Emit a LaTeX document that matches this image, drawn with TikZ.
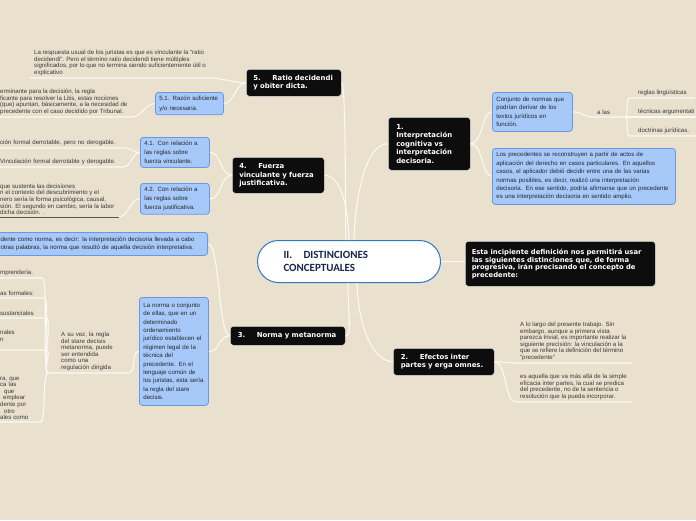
\documentclass[tikz,border=0pt]{standalone}
\usepackage{fontspec}
\setmainfont{Liberation Sans}
\newfontfamily\boldsans{DejaVu Sans}
\newfontfamily\titlefont{Carlito}
\definecolor{paper}{RGB}{233,224,206}
\definecolor{boxblue}{RGB}{166,201,250}
\definecolor{boxedge}{RGB}{104,152,228}
\definecolor{hubedge}{RGB}{44,122,196}
\definecolor{hubtext}{RGB}{24,38,78}
\definecolor{leafgray}{RGB}{58,58,58}
\definecolor{linkwhite}{RGB}{251,249,244}
\newcommand{\tnum}[1]{\makebox[19pt][l]{#1}}
\begin{document}
\begin{tikzpicture}[x=1pt, y=-1pt,
  hub/.style={draw=hubedge, line width=1pt, fill=white, rounded corners=21pt, text=hubtext,
    font=\titlefont\bfseries\fontsize{11}{12.5}\selectfont, align=left, anchor=north west, inner xsep=26pt},
  topic/.style={draw=white!85!black, line width=0.6pt, fill=black!95, rounded corners=3pt, text=white,
    font=\boldsans\bfseries\fontsize{6.9}{8.5}\selectfont, align=left, anchor=north west, inner xsep=7pt},
  sub/.style={draw=boxedge, line width=0.8pt, fill=boxblue, rounded corners=3pt, text=black!85,
    font=\fontsize{6.1}{8.4}\selectfont, align=left, anchor=north west, inner xsep=4pt},
  leaf/.style={text=leafgray, font=\fontsize{6.1}{6.6}\selectfont, align=left, anchor=south west,
    inner xsep=4pt, inner ysep=2pt},
  link/.style={draw=linkwhite, line width=1.1pt}
]
  \useasboundingbox (0,0) rectangle (696,520);
  \clip (0,0) rectangle (696,520);
  \fill[paper] (0,0) rectangle (696,520);

  % centre
  \node[hub, minimum width=183pt, minimum height=42pt, text width=131pt] (hub) at (257,240)
    {\makebox[20pt][l]{II.}DISTINCIONES\\CONCEPTUALES};
  \node[topic, minimum width=190pt, minimum height=45pt, text width=177pt, inner xsep=6.5pt,
    font=\boldsans\bfseries\fontsize{6.8}{7.6}\selectfont] (nE) at (465,241)
    {Esta incipiente definición nos permitirá usar\\las siguientes distinciones que, de forma\\progresiva, irán precisando el concepto de\\precedente:};

  % 1
  \node[topic, minimum width=82pt, minimum height=53pt, text width=66pt, inner xsep=8pt] (n1) at (388,117)
    {1.\\Interpretación\\cognitiva vs\\interpretación\\decisoria.};
  \node[sub, minimum width=80pt, minimum height=39pt, text width=72pt] (sC) at (492,92)
    {Conjunto de normas que\\podrían derivar de los\\textos jurídicos en\\función.};
  \node[sub, minimum width=183pt, minimum height=56pt, text width=175pt] (sP) at (492,148)
    {Los precedentes se reconstruyen a partir de actos de\\aplicación del derecho en casos particulares. En aquellos\\casos, el aplicador debió decidir entre una de las varias\\normas posibles, es decir, realizó una interpretación\\decisoria. En ese sentido, podría afirmarse que un precedente\\es una interpretación decisoria en sentido amplio.};
  \node[leaf] (la) at (593,117) {a las};
  \node[leaf, inner xsep=8pt] (lr1) at (630,98) {reglas lingüísticas};
  \node[leaf, inner xsep=11pt] (lr2) at (627,117) {técnicas argumentati};
  \node[leaf, inner xsep=8pt] (lr3) at (630,136) {doctrinas jurídicas.};
  \coordinate (j1) at (625,117);

  % 2
  \node[topic, minimum width=101pt, minimum height=27pt, text width=86pt, inner xsep=7.5pt] (n2) at (393,348)
    {\tnum{2.}Efectos inter\\partes y erga omnes.};
  \node[leaf, inner xsep=5pt] (l2a) at (515,363)
    {A lo largo del presente trabajo. Sin\\embargo, aunque a primera vista\\parezca trivial, es importante realizar la\\siguiente precisión: la vinculación a la\\que se refiere la definición del término\\“precedente”};
  \node[leaf, inner xsep=5pt] (l2b) at (515,402)
    {es aquella que va más allá de la simple\\eficacia inter partes, la cual se predica\\del precedente, no de la sentencia o\\resolución que la pueda incorporar.};

  % 3
  \node[topic, minimum width=115pt, minimum height=19pt, text width=100pt, inner xsep=7.5pt] (n3) at (230,326)
    {\tnum{3.}Norma y metanorma};
  \node[sub, minimum width=69pt, minimum height=108pt, text width=61pt] (sN) at (139,297)
    {La norma o conjunto\\de ellas, que en un\\determinado\\ordenamiento\\jurídico establecen el\\régimen legal de la\\técnica del\\precedente. En el\\lenguaje común de\\los juristas, esta sería\\la regla del stare\\decisis.};
  \node[sub, anchor=north east, minimum height=23pt, text width=203pt, font=\fontsize{6.1}{8}\selectfont] (sD) at (208,232)
    {dente como norma, es decir: la interpretación decisoria llevada a cabo\\otras palabras, la norma que resultó de aquella decisión interpretativa.};
  \node[leaf, text width=63pt] (lA) at (57,373)
    {A su vez, la regla\\del stare decisis\\metanorma, puede\\ser entendida\\como una\\regulación dirigida};
  \coordinate (jA) at (48,373);
  \node[leaf, text width=38pt] (lL1) at (-4,278) {mprendería.};
  \node[leaf, text width=40pt] (lL2) at (-4,298) {as formales:};
  \node[leaf, text width=42pt] (lL3) at (-4,318) {sustanciales};
  \node[leaf, text width=42pt] (lL4) at (-4,350) {nales\\n\\ \mbox{}};
  \node[leaf, text width=36pt] (lL5) at (-4,422)
    {ra, que\\ca las\\\hspace*{4pt}que\\\hspace*{3pt}emplear\\dente por\\\hspace*{4pt}otro\\ales como};

  % 4
  \node[topic, minimum width=92pt, minimum height=36pt, text width=78pt] (n4) at (232,157)
    {\tnum{4.}Fuerza\\vinculante y fuerza\\justificativa.};
  \node[sub, minimum width=69pt, minimum height=30pt, text width=61pt, font=\fontsize{6.1}{9.2}\selectfont] (s41) at (140,137)
    {4.1. Con relación a\\las reglas sobre\\fuerza vinculante.};
  \node[sub, minimum width=69pt, minimum height=30pt, text width=61pt, font=\fontsize{6.1}{9.2}\selectfont] (s42) at (140,183)
    {4.2. Con relación a\\las reglas sobre\\fuerza justificativa.};
  \node[leaf, text width=119pt] (l41a) at (-4,148) {ción formal derrotable, pero no derogable.};
  \node[leaf, text width=119pt] (l41b) at (-4,167) {Vinculación formal derrotable y derogable.};
  \node[leaf] (l42) at (-4,217)
    {que sustenta las decisiones\\n el contexto del descubrimiento y el\\nero sería la forma psicológica, causal,\\sión. El segundo en cambio, sería la labor\\dicha decisión. .};

  % 5
  \node[topic, minimum width=95pt, minimum height=27pt, text width=81pt] (n5) at (246,69)
    {\tnum{5.}Ratio decidendi\\y obiter dicta.};
  \node[sub, minimum width=68pt, minimum height=21pt, text width=60pt, font=\fontsize{6.1}{10}\selectfont] (s51) at (155,92)
    {5.1. Razón suficiente\\y/o necesaria.};
  \node[leaf] (l5a) at (30,78)
    {La respuesta usual de los juristas es que es vinculante la “ratio\\decidendi”. Pero el término ratio decidendi tiene múltiples\\significados, por lo que no termina siendo suficientemente útil o\\explicativo};
  \node[leaf] (l51) at (-4,117)
    {erminante para la decisión, la regla\\ficante para resolver la Litis, estas nociones\\(que) apuntan, básicamente, a la necesidad de\\precedente con el caso decidido por Tribunal.};

  % links
  \draw[link] (hub.east) -- (hub.east -| nE.west);
  \draw[link] (n5.east) .. controls (346,83) and (345,200) .. ([xshift=-3pt]hub.north);
  \draw[link] (n4.east) .. controls (340,175) and (348,205) .. (hub.north);
  \draw[link] (n1.west) .. controls (365,143) and (355,200) .. ([xshift=5pt]hub.north);
  \draw[link] ([xshift=-1pt]hub.south) .. controls (348,315) and (352,336) .. (n3.east);
  \draw[link] ([xshift=8pt]hub.south) .. controls (358,325) and (372,361) .. (n2.west);

  \draw[link] (n1.east) .. controls +(12,0) and +(-10,0) .. (sC.west);
  \draw[link] (n1.east) .. controls +(12,0) and +(-10,0) .. (sP.west);
  \draw[link] (sC.east) .. controls +(10,0) and +(-10,0) .. (la.south west) -- (j1);
  \draw[link] (j1) .. controls +(4,0) and +(-5,0) .. (lr1.south west) -- (lr1.south east);
  \draw[link] (j1) -- (lr2.south west) -- (lr2.south east);
  \draw[link] (j1) .. controls +(4,0) and +(-5,0) .. (lr3.south west) -- (lr3.south east);

  \draw[link] (n2.east) .. controls +(12,0) and +(-10,0) .. (l2a.south west) -- (l2a.south east);
  \draw[link] (n2.east) .. controls +(12,0) and +(-10,0) .. (l2b.south west) -- (l2b.south east);

  \draw[link] (n3.west) .. controls +(-12,0) and +(12,0) .. (sN.east);
  \draw[link] (n3.west) .. controls +(-12,0) and +(12,0) .. (sD.east);
  \draw[link] (sN.west) .. controls +(-8,0) and +(8,0) .. (lA.south east) -- (jA);
  \foreach \l in {lL1,lL2,lL3,lL4,lL5}
    \draw[link] (jA) .. controls +(-6,0) and +(6,0) .. (\l.south east) -- (\l.south west);

  \draw[link] (n4.west) .. controls +(-12,0) and +(12,0) .. (s41.east);
  \draw[link] (n4.west) .. controls +(-12,0) and +(12,0) .. (s42.east);
  \draw[link] (s41.west) .. controls +(-8,0) and +(8,0) .. (l41a.south east) -- (l41a.south west);
  \draw[link] (s41.west) .. controls +(-8,0) and +(8,0) .. (l41b.south east) -- (l41b.south west);
  \draw[link] (s42.west) .. controls +(-10,0) and +(10,0) .. (l42.south east);
  \draw[line width=0.9pt, draw=black!65] (l42.south east) -- (l42.south west);

  \draw[link] (n5.west) .. controls +(-10,0) and +(10,0) .. (l5a.south east) -- (l5a.south west);
  \draw[link] (n5.west) .. controls +(-10,0) and +(10,0) .. (s51.east);
  \draw[link] (s51.west) .. controls +(-10,0) and +(10,0) .. (l51.south east) -- (l51.south west);
\end{tikzpicture}
\end{document}
